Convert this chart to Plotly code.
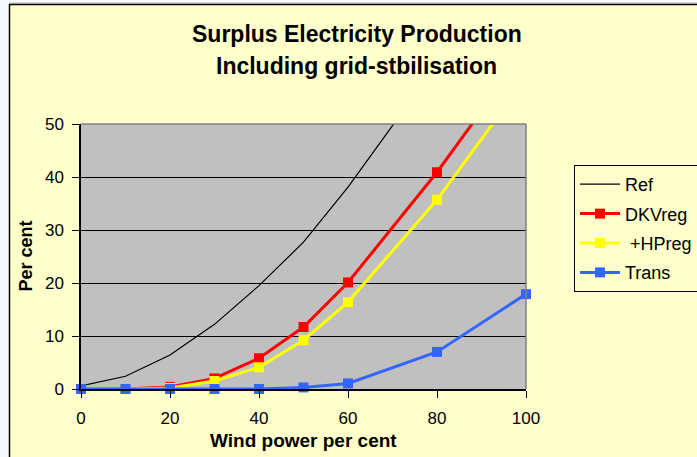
import plotly.graph_objects as go

# Wind power share (%) on the x axis
wind = [0, 10, 20, 30, 40, 50, 60, 70, 80]
ref = [0.6, 2.4, 6.4, 12.2, 19.5, 27.7, 38.1, 49.7, 63.0]

wind_reg = [0, 10, 20, 30, 40, 50, 60, 80, 100]
dkvreg = [0.0, 0.0, 0.4, 2.0, 5.8, 11.7, 20.1, 40.9, 64.0]
hpreg = [0.0, 0.0, 0.2, 1.5, 4.1, 9.2, 16.4, 35.7, 58.6]
trans = [0.0, 0.0, 0.0, 0.0, 0.0, 0.3, 1.05, 7.0, 17.9]

x_ticks = [0, 20, 40, 60, 80, 100]
y_ticks = [0, 10, 20, 30, 40, 50]

FONT = "Arial, Liberation Sans, sans-serif"
W, H = 697, 457
ML, MR, MT, MB = 81, 171, 124, 68
PW, PH = W - ML - MR, H - MT - MB


def px_x(p):
    return (p - ML) / PW


def px_y(p):
    return (H - MB - p) / PH


fig = go.Figure()
fig.add_trace(go.Scatter(x=wind, y=ref, name="Ref", mode="lines",
                         line=dict(color="black", width=1.2), legendgroup="a"))
fig.add_trace(go.Scatter(x=wind_reg, y=dkvreg, name="DKVreg", mode="lines+markers",
                         line=dict(color="#FF0000", width=3), cliponaxis=False,
                         marker=dict(symbol="square", size=10, color="#FF0000"),
                         legendgroup="b"))
fig.add_trace(go.Scatter(x=wind_reg, y=hpreg, name="\u00a0+HPreg", mode="lines+markers",
                         line=dict(color="#FFFF00", width=3), cliponaxis=False,
                         marker=dict(symbol="square", size=10, color="#FFFF00"),
                         legendgroup="c"))
fig.add_trace(go.Scatter(x=wind_reg, y=trans, name="Trans", mode="lines+markers",
                         line=dict(color="#3366FF", width=3), cliponaxis=False,
                         marker=dict(symbol="square", size=10, color="#3366FF"),
                         legendgroup="d"))

shapes = [
    # page strip outside the chart frame
    dict(type="rect", xref="paper", yref="paper", x0=-1, x1=px_x(8.5), y0=-1, y1=3,
         fillcolor="#F7F7FF", line=dict(width=0), layer="below"),
    dict(type="rect", xref="paper", yref="paper", x0=-1, x1=3, y0=px_y(3.5), y1=3,
         fillcolor="#F7F7FF", line=dict(width=0), layer="below"),
    # chart frame
    dict(type="line", xref="paper", yref="paper", x0=px_x(9), x1=3, y0=px_y(3), y1=px_y(3),
         line=dict(color="#B0B0B0", width=1)),
    dict(type="line", xref="paper", yref="paper", x0=px_x(9), x1=3, y0=px_y(4.5), y1=px_y(4.5),
         line=dict(color="black", width=1.5)),
    dict(type="line", xref="paper", yref="paper", x0=px_x(9.5), x1=px_x(9.5), y0=-1, y1=px_y(4),
         line=dict(color="black", width=1.5)),
    # plot area border (top and right)
    dict(type="line", xref="paper", yref="paper", x0=0, x1=1, y0=1, y1=1,
         line=dict(color="#808080", width=1.5)),
    dict(type="line", xref="paper", yref="paper", x0=1, x1=1, y0=0, y1=1,
         line=dict(color="#808080", width=1.5)),
]

annotations = [
    dict(text="<b>Surplus Electricity Production</b>", xref="paper", yref="paper",
         x=px_x(356.5), y=px_y(34), showarrow=False, xanchor="center", yanchor="middle",
         font=dict(family=FONT, size=23, color="black")),
    dict(text="<b>Including grid-stbilisation</b>", xref="paper", yref="paper",
         x=px_x(356.5), y=px_y(66), showarrow=False, xanchor="center", yanchor="middle",
         font=dict(family=FONT, size=23, color="black")),
    dict(text="<b>Per cent</b>", xref="paper", yref="paper", x=px_x(25), y=0.5,
         textangle=-90, showarrow=False, xanchor="center", yanchor="middle",
         font=dict(family=FONT, size=18, color="black")),
    dict(text="<b>Wind power per cent</b>", xref="paper", yref="paper",
         x=px_x(303), y=px_y(440), showarrow=False, xanchor="center", yanchor="middle",
         font=dict(family=FONT, size=19, color="black")),
]

fig.update_layout(
    width=W, height=H,
    margin=dict(l=ML, r=MR, t=MT, b=MB, pad=0, autoexpand=False),
    paper_bgcolor="#FFFFCC",
    plot_bgcolor="#C0C0C0",
    font=dict(family=FONT, size=17, color="black"),
    showlegend=True,
    legend=dict(x=px_x(574), y=px_y(165), xanchor="left", yanchor="top",
                bgcolor="#FFFFCC", bordercolor="black", borderwidth=1,
                font=dict(family=FONT, size=18, color="black"),
                itemwidth=40, tracegroupgap=3, traceorder="grouped"),
    shapes=shapes,
    annotations=annotations,
)
fig.update_xaxes(range=[0, 100], tickvals=x_ticks, ticks="outside", ticklen=7,
                 tickcolor="black", showline=True, linecolor="black", linewidth=1.5,
                 showgrid=False, zeroline=False, tickfont=dict(size=17),
                 ticklabelstandoff=6)
fig.update_yaxes(range=[0, 50], tickvals=y_ticks, ticks="outside", ticklen=7,
                 tickcolor="black", showline=True, linecolor="black", linewidth=1.5,
                 showgrid=True, gridcolor="black", gridwidth=1, zeroline=False,
                 tickfont=dict(size=17), ticklabelstandoff=5)

fig.write_html("out.html")
